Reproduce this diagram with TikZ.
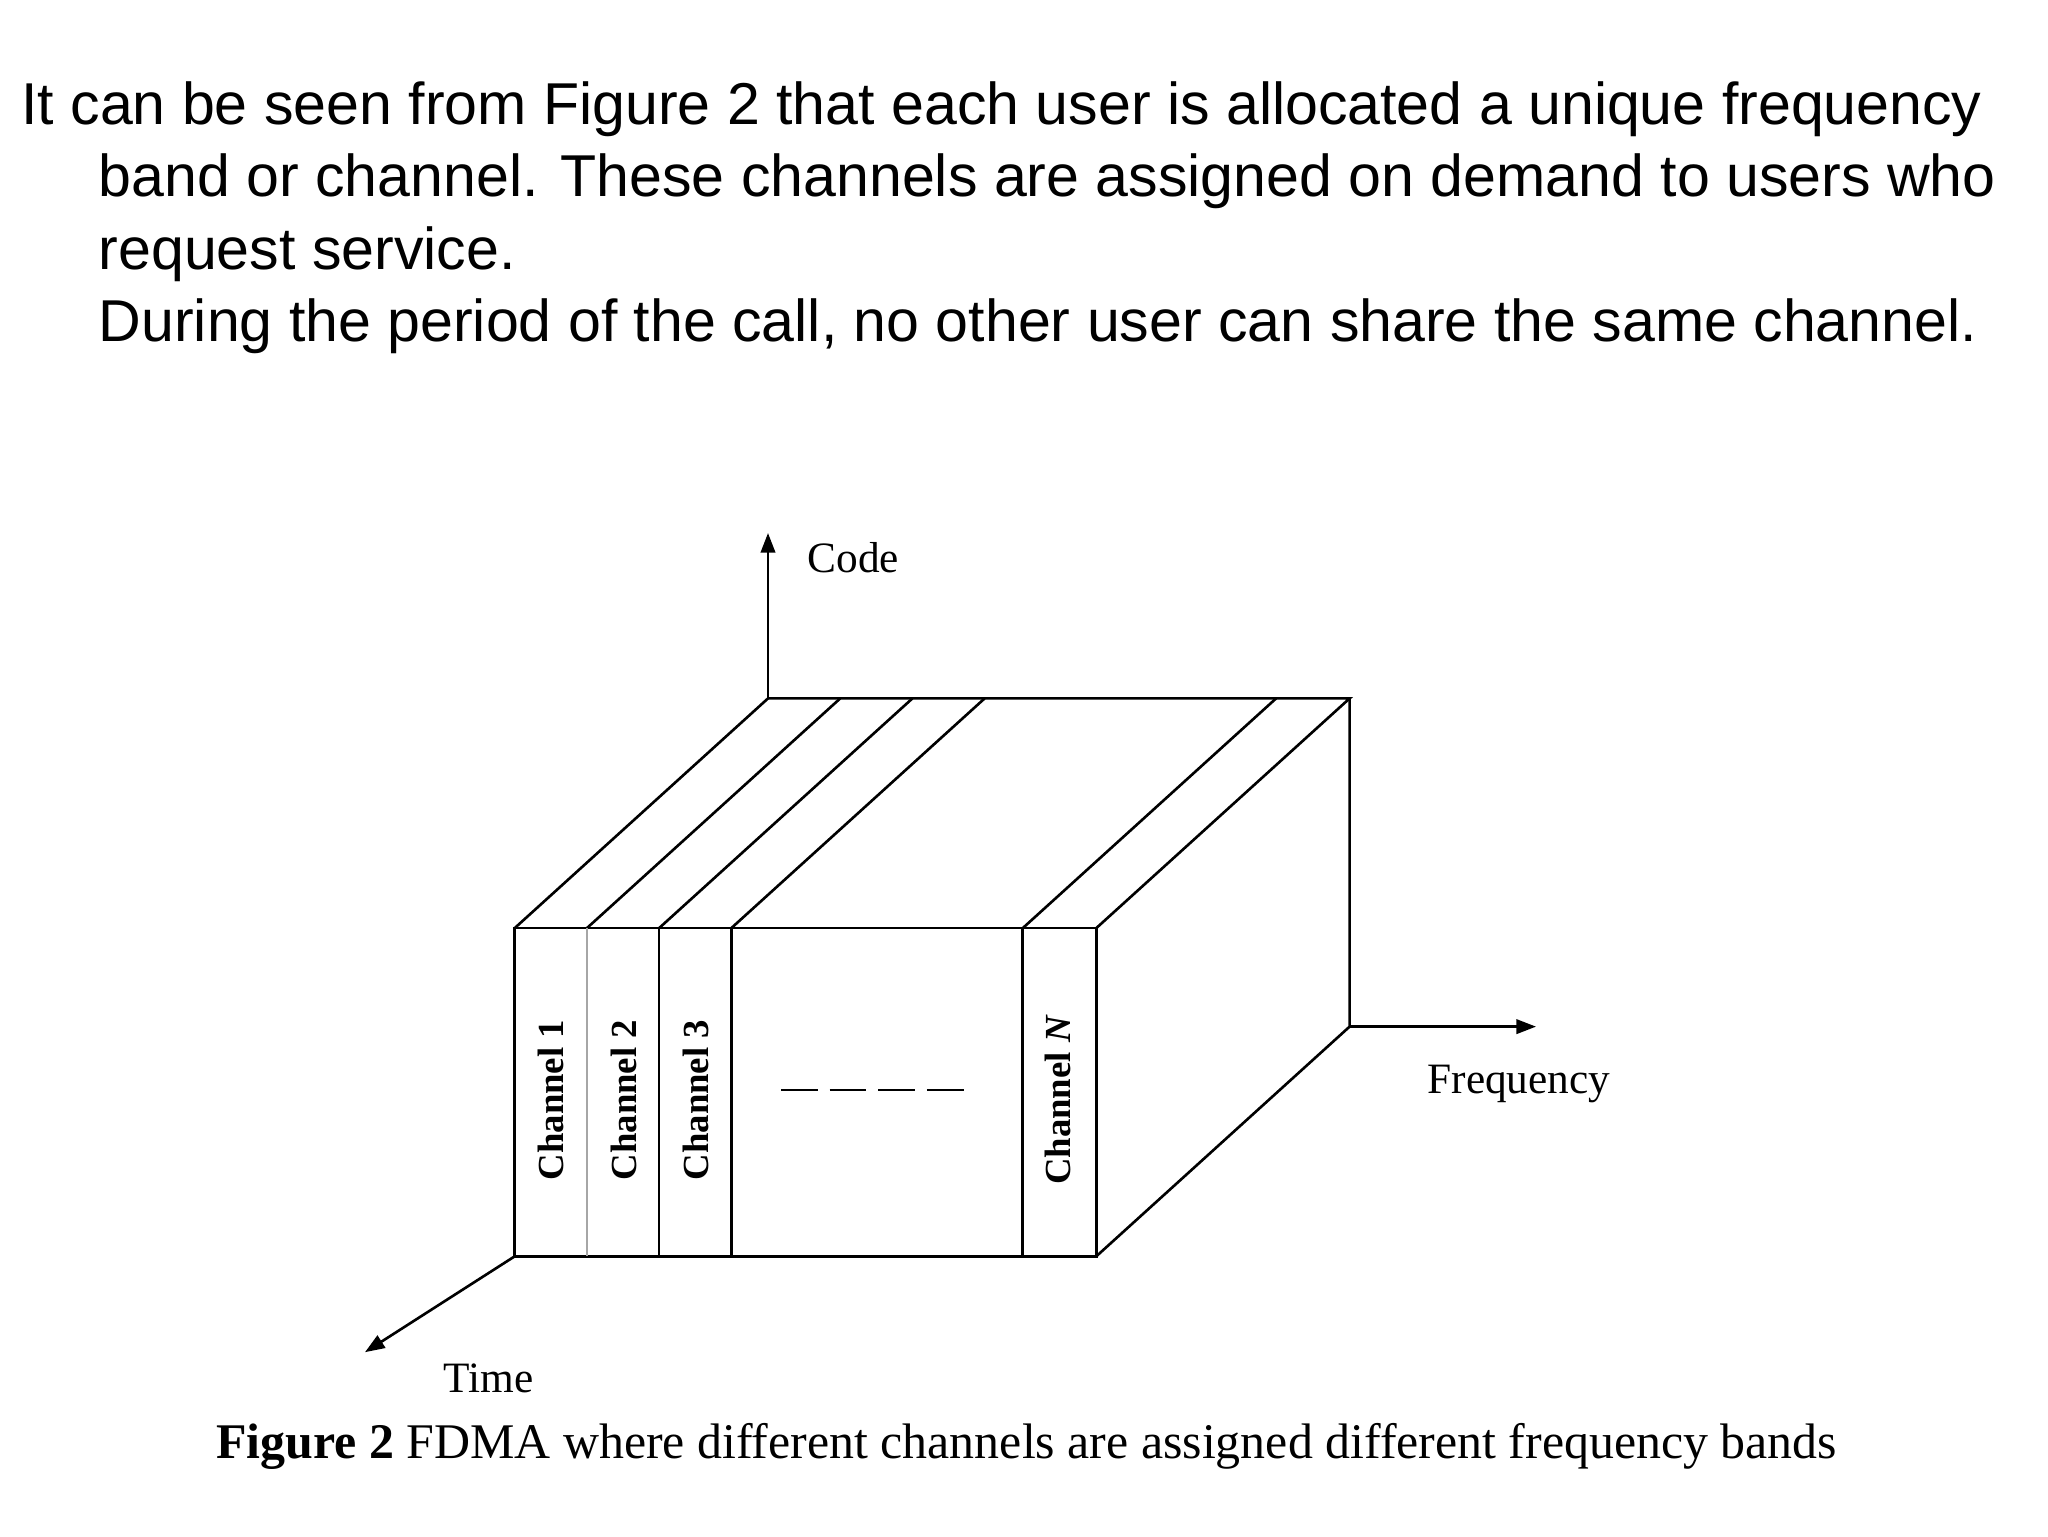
\documentclass[tikz,border=0pt]{standalone}
\usepackage{fontspec}
\setmainfont{Liberation Serif}
\newfontfamily\sansf{Liberation Sans}
\usetikzlibrary{arrows.meta}
\begin{document}
\begin{tikzpicture}[x=1pt,y=-1pt,
  edge/.style={line width=2pt,line join=miter},
  axis/.style={line width=2pt,-{Triangle[length=15pt,width=11pt]}},
  para/.style={anchor=base west,inner sep=0,font=\sansf\fontsize{45}{52}\selectfont},
  chlab/.style={rotate=90,inner sep=0,font=\bfseries\fontsize{28}{30}\selectfont},
  axlab/.style={inner sep=0,font=\fontsize{33}{36}\selectfont}]
\useasboundingbox (0,0) rectangle (1560,1170);
\node[para] (l1) at (16,95) {It can be seen from Figure 2 that each user is allocated a unique frequency};
\node[para] (l2) at (75,150) {band or channel. These channels are assigned on demand to users who};
\node[para] (l3) at (75,205) {request service.};
\node[para] (l4) at (75,260) {During the period of the call, no other user can share the same channel.};
% box
\coordinate (ftl) at (392,707); \coordinate (ftr) at (835,707);
\coordinate (fbl) at (392,957); \coordinate (fbr) at (835,957);
\coordinate (btl) at (585,532); \coordinate (btr) at (1028,532);
\coordinate (bbr) at (1028,782);
\draw[edge] (ftl) rectangle (fbr);
\draw[edge] (ftl) -- (btl) -- (btr) -- (ftr);
\draw[edge] (btr) -- (bbr) -- (fbr);
\foreach \x in {447,502,557,779}{
  \draw[edge] (\x,707) -- (\x,957);
  \draw[edge] (\x,707) -- (\x+193,532);
}
\draw[gray!70,line width=1.5pt] (447,707) -- (447,957);
% axes
\coordinate (codeend) at (585,406);
\coordinate (freqend) at (1170,782);
\coordinate (timeend) at (278,1030);
\draw[axis] (btl) -- (codeend);
\draw[axis] (bbr) -- (freqend);
\draw[axis] (fbl) -- (timeend);
\node[axlab] (code) at (650,425) {Code};
\node[axlab] (freq) at (1157,826) {Frequency};
\node[axlab] (time) at (372,1050) {Time};
% channel labels
\node[chlab] (c1) at (420,838) {Channel 1};
\node[chlab] (c2) at (475,838) {Channel 2};
\node[chlab] (c3) at (530,838) {Channel 3};
\node[chlab] (cn) at (806,838) {Channel \textit{N}};
\foreach \x in {595,632,669,706}{\draw[line width=1.5pt] (\x,830) -- (\x+28,830);}
% caption
\node[inner sep=0,font=\fontsize{38}{40}\selectfont] (cap) at (782,1102) {\textbf{Figure 2} FDMA where different channels are assigned different frequency bands};
\end{tikzpicture}
\end{document}
